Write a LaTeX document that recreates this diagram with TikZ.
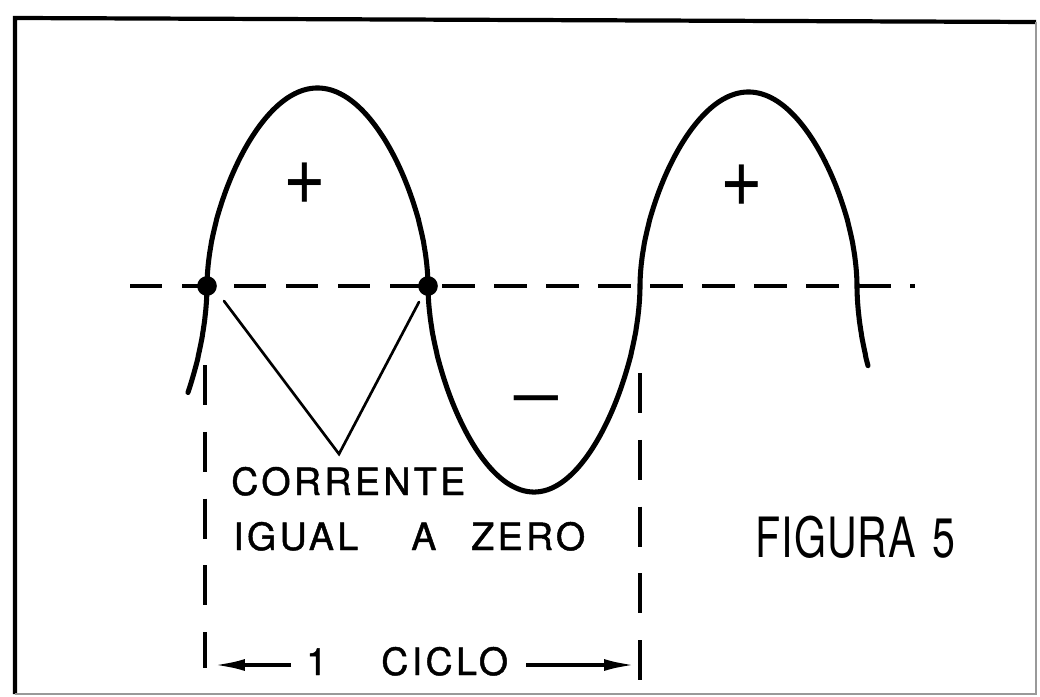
\documentclass[tikz,border=0pt]{standalone}
\usepackage{fontspec}
\usetikzlibrary{arrows.meta}
\newfontfamily\labfont[LetterSpace=9,FakeBold=1.2]{TeX Gyre Heros}
\newfontfamily\figfont[FakeStretch=0.74,LetterSpace=2]{TeX Gyre Heros}
\newfontfamily\signfont{TeX Gyre Heros}
\begin{document}
\begin{tikzpicture}[x=0.025cm,y=-0.025cm,
  declare function={archx(\s)=(1-cos(\s))/2; archy(\s)=pow(sin(90*(1-cos(\s)))+0.00002,0.55);},
  wave/.style={line width=3.6pt,line join=round,line cap=round},
  axisline/.style={line width=3.1pt,dash pattern=on 23pt off 14pt},
  cycleline/.style={line width=2.8pt,dash pattern=on 28.5pt off 19pt},
  pointer/.style={line width=1.9pt,line cap=round},
  dimarrow/.style={line width=2.6pt,-{Latex[length=22pt,width=8.5pt]}},
  lab/.style={font=\labfont\fontsize{26.7}{30}\selectfont,inner sep=0pt,anchor=base west},
  fig/.style={font=\figfont\fontsize{39.5}{42}\selectfont,inner sep=0pt,anchor=base west},
  sign/.style={font=\signfont\fontsize{52}{54}\selectfont,inner sep=0pt},
  dot/.style={fill=black}]
\useasboundingbox (0,0) rectangle (1040,697);
% frame
\draw[line width=3pt] (1036,22) -- (15,18) -- (15,694);
\draw[line width=1.2pt,black!40] (15,694) -- (1036,694) -- (1036,22);
% axis
\coordinate (axl) at (130,286);
\coordinate (axr) at (915,286);
\draw[axisline] (axl) -- (axr);
% zero crossings
\coordinate (z1) at (207,286);
\coordinate (z2) at (428,286);
\coordinate (z3) at (640,286);
\coordinate (z4) at (857,286);
% wave
\draw[wave]
  plot[variable=\s,domain=0:0.98,samples=40] ({207-19*(1-\s)*(1-\s)},{286+220*pow(sin(15.5*(1-\s)*(1-\s))+0.00002,0.55)})
  -- (z1)
  -- plot[variable=\s,domain=0.5:179.5,samples=160] ({207+221*archx(\s)},{286-198*archy(\s)})
  -- (z2)
  -- plot[variable=\s,domain=0.5:179.5,samples=160] ({428+212*archx(\s)},{286+206*archy(\s)})
  -- (z3)
  -- plot[variable=\s,domain=0.5:179.5,samples=160] ({640+217*archx(\s)},{286-194*archy(\s)})
  -- (z4)
  -- plot[variable=\s,domain=0.02:1,samples=30] ({857+11*\s*\s},{286+220*pow(sin(9*\s*\s)+0.00002,0.55)});
\fill[dot] (z1) circle[radius=7pt];
\fill[dot] (z2) circle[radius=7pt];
% pointer lines
\coordinate (p1) at (224,301);
\coordinate (p2) at (419,302);
\coordinate (apex) at (339,454);
\draw[pointer] (p1) -- (apex) -- (p2);
% cycle marks
\coordinate (c1t) at (205,365);
\coordinate (c1b) at (205,668);
\coordinate (c2t) at (640,373);
\coordinate (c2b) at (640,680);
\draw[cycleline] (c1t) -- (c1b);
\draw[cycleline] (c2t) -- (c2b);
\coordinate (a1s) at (291,665);
\coordinate (a1e) at (214,665);
\coordinate (a2s) at (526,665);
\coordinate (a2e) at (635,665);
\draw[dimarrow] (a1s) -- (a1e);
\draw[dimarrow] (a2s) -- (a2e);
% texts
\node[lab] (corrente) at (231,495) {CORRENTE};
\node[lab] (igual) at (233,550) {IGUAL};
\node[lab] (a) at (411,550) {A};
\node[lab] (zero) at (471,550) {ZERO};
\node[lab] (one) at (306,675) {1};
\node[lab] (ciclo) at (381,675) {CICLO};
\node[fig] (figura) at (755,557) {FIGURA\hspace{0.3em}5};
% signs
\node[sign,yscale=1.2] (plus1) at (305,184) {+};
\node[sign,xscale=1.35] (minus) at (536,406) {−};
\node[sign,yscale=1.2] (plus2) at (742,186) {+};
\end{tikzpicture}
\end{document}
